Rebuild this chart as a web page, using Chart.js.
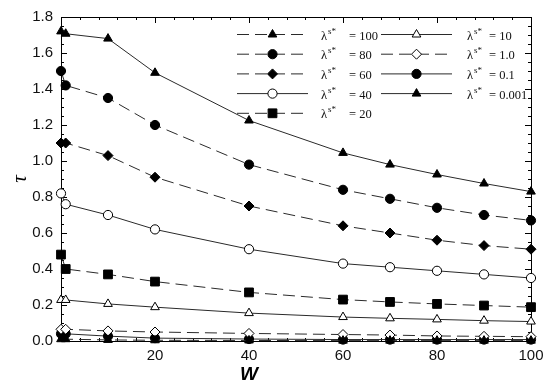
<!DOCTYPE html>
<html>
<head>
<meta charset="utf-8">
<script src="https://cdn.jsdelivr.net/npm/chart.js@4"></script>
<style>
  html, body { margin: 0; padding: 0; background: #fff; }
  #wrap { width: 550px; height: 386px; }
</style>
</head>
<body>
<div id="wrap"><canvas id="chart"></canvas></div>
<script>
// W values along the x axis
const wValues = [0, 1, 10, 20, 40, 60, 70, 80, 90, 100]

// tau for each lambda_s*
const lam100  = [0.010, 0.010, 0.006, 0.004, 0.003, 0.002, 0.002, 0.002, 0.002, 0.002]
const lam80   = [1.50, 1.42, 1.35, 1.20, 0.98, 0.84, 0.79, 0.74, 0.70, 0.67]
const lam60   = [1.10, 1.10, 1.03, 0.91, 0.75, 0.64, 0.60, 0.56, 0.53, 0.51]
const lam40   = [0.82, 0.76, 0.70, 0.62, 0.51, 0.43, 0.41, 0.39, 0.37, 0.35]
const lam20   = [0.48, 0.40, 0.37, 0.33, 0.27, 0.23, 0.217, 0.206, 0.197, 0.188]
const lam10   = [0.228, 0.228, 0.206, 0.188, 0.155, 0.133, 0.126, 0.12, 0.113, 0.108]
const lam1    = [0.065, 0.065, 0.056, 0.05, 0.042, 0.036, 0.033, 0.028, 0.026, 0.024]
const lam01   = [0.040, 0.040, 0.027, 0.016, 0.011, 0.008, 0.008, 0.008, 0.008, 0.008]
const lam0001 = [1.72, 1.707, 1.68, 1.49, 1.225, 1.045, 0.98, 0.925, 0.875, 0.83]

const lamLabels = ['100', '80', '60', '40', '20', '10', '1.0', '0.1', '0.001']
const yTicks = [0, 0.2, 0.4, 0.6, 0.8, 1.0, 1.2, 1.4, 1.6, 1.8]

const LINE = '#2a2a2a'
const DASH = [12, 6]

const styles = [
  { data: lam100,  dash: DASH, shape: 'triangle', fill: '#000', r: 5 },
  { data: lam80,   dash: DASH, shape: 'circle',   fill: '#000', r: 4.6 },
  { data: lam60,   dash: DASH, shape: 'rectRot',  fill: '#000', r: 5 },
  { data: lam40,   dash: [],   shape: 'circle',   fill: '#fff', r: 4.6 },
  { data: lam20,   dash: DASH, shape: 'rect',     fill: '#000', r: 6.2 },
  { data: lam10,   dash: [],   shape: 'triangle', fill: '#fff', r: 5 },
  { data: lam1,    dash: DASH, shape: 'rectRot',  fill: '#fff', r: 5 },
  { data: lam01,   dash: [],   shape: 'circle',   fill: '#000', r: 4.6 },
  { data: lam0001, dash: [],   shape: 'triangle', fill: '#000', r: 5 },
]

const datasets = styles.map((s, i) => ({
  label: 'λs* = ' + lamLabels[i],
  data: wValues.map((w, k) => ({ x: w, y: s.data[k] })),
  borderColor: LINE,
  borderWidth: 1,
  borderDash: s.dash,
  pointStyle: s.shape,
  pointRadius: s.r,
  pointBackgroundColor: s.fill,
  pointBorderColor: '#000',
  pointBorderWidth: 1,
  tension: 0,
  clip: false,
}))

// frame with inward major/minor ticks on all four sides
const framePlugin = {
  id: 'frame',
  beforeDatasetsDraw(chart) {
    const { ctx, chartArea: a, scales: { x, y } } = chart
    ctx.save()
    ctx.strokeStyle = '#000'
    ctx.lineWidth = 1
    ctx.strokeRect(a.left + 0.5, a.top + 0.5, a.right - a.left, a.bottom - a.top)
    ctx.beginPath()
    for (let v = 0; v <= 100; v += 4) {
      const px = Math.round(x.getPixelForValue(v)) + 0.5
      const len = v % 20 === 0 ? 6 : 3
      ctx.moveTo(px, a.bottom); ctx.lineTo(px, a.bottom - len)
      ctx.moveTo(px, a.top); ctx.lineTo(px, a.top + len)
    }
    for (let k = 0; k <= 36; k++) {
      const py = Math.round(y.getPixelForValue(k * 0.05)) + 0.5
      const len = k % 4 === 0 ? 6 : 3
      ctx.moveTo(a.left, py); ctx.lineTo(a.left + len, py)
      ctx.moveTo(a.right, py); ctx.lineTo(a.right - len, py)
    }
    ctx.stroke()
    ctx.restore()
  },
  afterDraw(chart) {
    const { ctx, scales: { x } } = chart
    ctx.save()
    ctx.fillStyle = '#000'
    ctx.font = 'italic bold 19px "Liberation Sans", Arial'
    ctx.textAlign = 'center'
    ctx.textBaseline = 'middle'
    ctx.fillText('W', x.getPixelForValue(40), 375)
    ctx.restore()
  }
}

// two-column legend inside the plot
const legendPlugin = {
  id: 'boxLegend',
  afterDatasetsDraw(chart) {
    const { ctx, chartArea: a } = chart
    ctx.save()
    chart.data.datasets.forEach((ds, i) => {
      const col = i < 5 ? 0 : 1
      const row = i < 5 ? i : i - 5
      const x0 = a.left + (col ? 320 : 176)
      const yy = a.top + 17.5 + row * 19.7
      ctx.strokeStyle = LINE
      ctx.lineWidth = 1
      ctx.setLineDash(ds.borderDash)
      ctx.beginPath()
      ctx.moveTo(x0, yy); ctx.lineTo(x0 + 71, yy)
      ctx.stroke()
      ctx.setLineDash([])
      ctx.fillStyle = ds.pointBackgroundColor
      ctx.strokeStyle = '#000'
      Chart.helpers.drawPoint(ctx, { pointStyle: ds.pointStyle, radius: ds.pointRadius, rotation: 0, borderWidth: 1 }, x0 + 35.5, yy)

      const tx = x0 + (col ? 86 : 84)
      ctx.fillStyle = '#111'
      ctx.textBaseline = 'alphabetic'
      ctx.textAlign = 'left'
      ctx.font = '12.5px "Liberation Serif", serif'
      ctx.fillText('λ', tx, yy + 5)
      ctx.font = '9px "Liberation Serif", serif'
      ctx.fillText('s*', tx + 7, yy - 1)
      ctx.font = '12.5px "Liberation Serif", serif'
      ctx.fillText('= ' + lamLabels[i], tx + (col ? 22 : 28), yy + 5)
    })
    ctx.restore()
  }
}

new Chart(document.getElementById('chart'), {
  type: 'line',
  data: { datasets },
  options: {
    responsive: true,
    maintainAspectRatio: false,
    animation: false,
    layout: { padding: { top: 12, right: 19, left: 0, bottom: 0 } },
    plugins: { legend: { display: false }, tooltip: { enabled: false } },
    scales: {
      x: {
        type: 'linear', min: 0, max: 100,
        grid: { display: false, drawTicks: false },
        border: { display: false },
        ticks: {
          stepSize: 20, padding: 6, color: '#111', maxRotation: 0,
          font: { family: '"Liberation Sans", Arial', size: 15 },
          callback: v => v === 0 ? '' : v
        },
        afterFit: s => { s.height = 45 }
      },
      y: {
        min: 0, max: 1.8,
        grid: { display: false, drawTicks: false },
        border: { display: false },
        afterBuildTicks: s => { s.ticks = yTicks.map(v => ({ value: v })) },
        ticks: {
          padding: 8, color: '#111',
          font: { family: '"Liberation Sans", Arial', size: 15 },
          callback: v => v.toFixed(1)
        },
        title: {
          display: true, text: 'τ', color: '#000',
          font: { family: '"Liberation Serif", serif', size: 21, style: 'italic' },
          padding: { top: 8, bottom: 0 }
        },
        afterFit: s => { s.width = 61 }
      }
    }
  },
  plugins: [framePlugin, legendPlugin]
})
</script>
</body>
</html>
